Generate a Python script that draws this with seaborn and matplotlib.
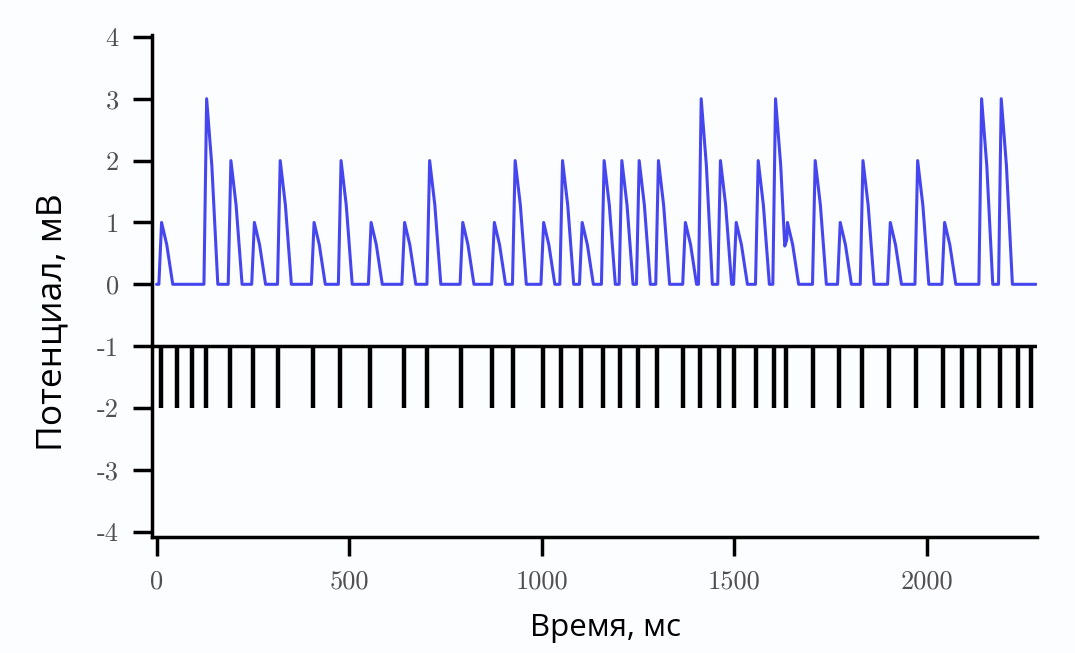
import numpy as np
import pandas as pd
import matplotlib
matplotlib.use('Agg')
import matplotlib.pyplot as plt
import seaborn as sns

# input spike train, ms
spike_times = [11, 52, 91, 128, 191, 251, 316, 407, 477, 554,
               643, 703, 790, 872, 925, 1002, 1051, 1102, 1158, 1204,
               1249, 1299, 1368, 1410, 1459, 1500, 1557, 1602, 1635, 1704,
               1771, 1832, 1901, 1972, 2041, 2091, 2136, 2189, 2236, 2269]

# membrane potential peaks (ms, mV)
peak_times = [13, 130, 193, 254, 321, 409, 479, 557, 644, 709,
              795, 877, 931, 1005, 1054, 1105, 1162, 1208, 1253, 1303,
              1373, 1414, 1464, 1505, 1562, 1607, 1638, 1710, 1775, 1834,
              1905, 1976, 2046, 2142, 2193]
peak_heights = [1, 3, 2, 1, 2, 1, 2, 1, 1, 2,
                1, 1, 2, 1, 2, 1, 2, 2, 2, 2,
                1, 3, 2, 1, 2, 3, 1, 2, 1, 2,
                1, 2, 1, 3, 3]

# shape of one pulse around its peak
pulse_offsets = [-7, 0, 13, 29]
pulse_shape = [0, 1, 0.66, 0]

t_end = 2283
spike_base, spike_tip = -1, -2

sns.set_style('ticks')
plt.rcParams['font.family'] = ['Open Sans', 'DejaVu Sans']
plt.rcParams['axes.unicode_minus'] = False

t = np.arange(0, t_end + 0.5, 0.5)
v = np.zeros_like(t)
for tp, h in zip(peak_times, peak_heights):
    v += h * np.interp(t, tp + np.array(pulse_offsets), pulse_shape, left=0, right=0)
trace = pd.DataFrame({'t': t, 'v': v})

fig = plt.figure(figsize=(10.75, 6.53), dpi=100)
fig.patch.set_facecolor('#fcfdff')
ax = fig.add_axes([0.1417, 0.1781, 0.823, 0.7683])
ax.set_facecolor('#fcfdff')

sns.lineplot(data=trace, x='t', y='v', color='#4646ee', lw=2.2,
             estimator=None, ax=ax)
ax.axhline(spike_base, color='black', lw=2.5)
ax.vlines(spike_times, spike_tip, spike_base, color='black', lw=3.2)

ax.set_xlim(-11, 2286)
ax.set_ylim(-4.08, 4.03)
ax.set_xticks([0, 500, 1000, 1500, 2000])
ax.set_yticks(range(-4, 5))
ax.tick_params(direction='out', length=14, width=2.5, pad=10, color='black',
               labelsize=19, labelcolor='#505050', labelfontfamily='cmr10')

for side in ['top', 'right']:
    ax.spines[side].set_visible(False)
for side in ['left', 'bottom']:
    ax.spines[side].set_linewidth(2.5)
    ax.spines[side].set_color('black')

ax.set_xlabel('Время, мс', fontsize=22.5, color='black')
ax.set_ylabel('Потенциал, мВ', fontsize=25.5, color='black')
ax.xaxis.set_label_coords(0.5117, -0.182)
ax.xaxis.label.set_va('center')
ax.yaxis.set_label_coords(-0.1128, 0.428)
ax.yaxis.label.set_va('center')

fig.savefig('out.png', dpi=100, facecolor=fig.get_facecolor())
